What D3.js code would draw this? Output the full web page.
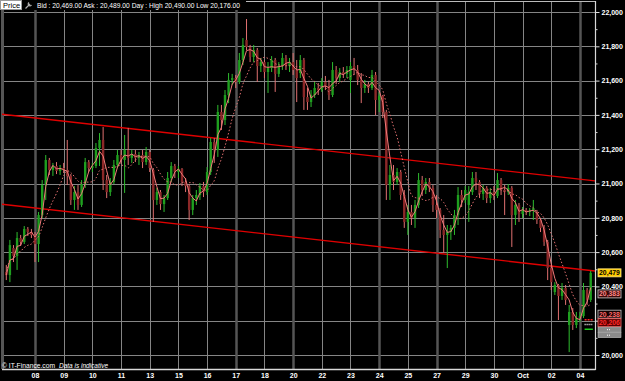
<!DOCTYPE html>
<html>
<head>
<meta charset="utf-8">
<script src="https://cdn.jsdelivr.net/npm/d3@7"></script>
<style>
html, body { margin: 0; padding: 0; background: #000; }
svg { display: block; font-family: "Liberation Sans", Arial, sans-serif; }
</style>
</head>
<body>
<svg id="chart" width="625" height="381"></svg>
<script>
// candles, one per slot (8 slots per labelled day)
const opens = [20484,20466,20624,20577,20682,20659,20735,20717,20700,20647,
  20816,20991,21137,21079,21102,21073,21090,21079,21044,20904,
  20950,20875,20997,21125,21090,21102,21207,21254,21020,20950,
  21009,21108,21166,21137,21195,21149,21172,21149,21166,21125,
  21184,21079,20904,20950,20880,20915,21032,21102,21067,21085,
  21009,20985,20846,20915,20933,20985,20950,21067,21242,21195,
  21417,21370,21516,21604,21615,21592,21720,21837,21796,21738,
  21778,21685,21708,21650,21673,21720,21639,21685,21732,21685,
  21708,21662,21644,21720,21504,21475,21516,21557,21545,21592,
  21569,21516,21662,21615,21650,21639,21604,21685,21662,21604,
  21557,21580,21557,21633,21487,21510,21417,20991,21050,21009,
  21067,20933,20776,20834,20799,20875,21020,20962,21009,20974,
  20875,20846,20729,20700,20717,20741,20816,20933,20904,20875,
  20950,21032,21009,20939,20974,20915,20950,20927,21020,20962,
  20950,20974,20816,20875,20822,20846,20834,20840,20834,20787,
  20741,20659,20507,20367,20408,20344,20391,20175,20251,20175,
  20216,20227,20379,20321];
const highs = [20525,20671,20641,20717,20700,20752,20746,20735,20717,20834,
  21020,21166,21149,21120,21125,21108,21120,21254,21055,20985,
  20991,21020,21149,21137,21120,21236,21294,21329,21050,21032,
  21137,21195,21195,21283,21324,21195,21195,21184,21195,21213,
  21195,21090,20974,20962,20933,21067,21125,21114,21102,21090,
  21032,20997,20933,20962,21003,21009,21096,21265,21265,21458,
  21458,21545,21644,21639,21633,21761,21848,21959,21808,21808,
  21790,21732,21720,21708,21743,21732,21708,21761,21749,21732,
  21761,21720,21749,21732,21557,21545,21592,21586,21615,21627,
  21604,21708,21685,21673,21679,21685,21708,21732,21691,21644,
  21604,21592,21662,21650,21534,21516,21429,21108,21108,21090,
  21079,20962,20875,20875,20904,21061,21044,21032,21032,20991,
  20933,20857,20816,20758,20758,20846,20979,20962,20985,20985,
  21067,21067,21020,20991,20985,20974,20985,21061,21032,20991,
  20997,20985,20904,20886,20863,20857,20857,20904,20846,20799,
  20758,20671,20525,20425,20414,20420,20408,20292,20274,20251,
  20251,20420,20391,20490];
const lows = [20437,20425,20542,20496,20636,20647,20694,20682,20542,20542,
  20799,20904,21050,21044,21055,21050,21061,20991,20875,20846,
  20846,20863,20974,21067,21067,21090,21102,20962,20915,20927,
  20997,21090,21114,20945,21108,21120,21125,21108,21090,21108,
  21067,20776,20875,20846,20834,20904,21009,21032,21032,20985,
  20950,20787,20816,20875,20904,20921,20933,21050,21120,21155,
  21312,21341,21469,21574,21557,21580,21691,21778,21708,21708,
  21592,21650,21615,21528,21650,21534,21621,21662,21662,21650,
  21633,21475,21615,21429,21429,21446,21499,21516,21534,21545,
  21487,21504,21580,21592,21615,21615,21528,21633,21574,21469,
  21528,21528,21545,21399,21417,21382,20904,20904,20962,20991,
  20904,20741,20700,20758,20741,20857,20927,20939,20950,20834,
  20799,20682,20595,20507,20671,20700,20758,20863,20886,20776,
  20933,20962,20915,20904,20886,20886,20904,20915,20933,20816,
  20933,20630,20758,20776,20799,20816,20810,20787,20764,20717,
  20636,20437,20379,20350,20204,20321,20292,20017,20146,20157,
  20192,20216,20292,20309];
const closes = [20466,20641,20577,20682,20659,20735,20717,20700,20647,20816,
  20991,21137,21079,21102,21073,21090,21079,21044,20904,20950,
  20875,20997,21125,21090,21102,21207,21254,21020,20950,21009,
  21108,21166,21137,21195,21149,21172,21149,21166,21125,21184,
  21090,20904,20950,20880,20915,21032,21102,21067,21085,21009,
  20985,20846,20915,20933,20985,20950,21067,21242,21195,21417,
  21370,21516,21604,21615,21592,21720,21808,21796,21738,21778,
  21685,21708,21650,21673,21720,21639,21685,21732,21685,21708,
  21662,21615,21720,21504,21475,21516,21557,21545,21592,21569,
  21516,21662,21615,21650,21639,21662,21685,21662,21604,21557,
  21580,21557,21633,21487,21510,21417,20991,21050,21009,21067,
  20933,20776,20834,20799,20875,21020,20962,21009,20974,20875,
  20846,20729,20700,20717,20741,20816,20933,20904,20962,20950,
  21032,21009,20939,20974,20915,20950,20927,21020,20962,20950,
  20974,20816,20875,20822,20846,20834,20840,20857,20787,20741,
  20659,20507,20425,20408,20344,20391,20321,20251,20175,20216,
  20227,20379,20321,20479];

const tickIdx = [8,16,24,32,40,48,56,64,72,80,88,96,104,112,120,128,136,144,152,160];
const tickLabels = ["08","09","10","11","13","15","16","17","18","20","22","23","24","25","27","29","30","Oct","02","04"];
const sessionStarts = ["08","17","20","24","27","04"];
const priceTicks = [20000,20200,20400,20600,20800,21000,21200,21400,21600,21800,22000];
const minorTicks = [20100,20300,20500,20700,20900,21100,21300,21500,21700,21900];

// channel lines: [slot, price] at each end
const upperLine = [[-1.76, 21405], [164.2, 21015]];
const lowerLine = [[-1.76, 20880], [164.2, 20490]];

const tagValues = [20479, 20383, 20238, 20206];
const greyTagValues = [20175, 20146];
const levelMarks = [20206, 20178, 20150];

const headerText = "Bid : 20,469.00 Ask : 20,489.00  Day : High 20,490.00 Low 20,176.00";

const maSlow = 8, maFast = 3;

const svg = d3.select("#chart");
const pLeft = 2, pRight = 595, pTop = 1, pBottom = 369;

const x = d3.scaleLinear().domain([-1.76, 164.2]).range([0, 595]);
const y = d3.scaleLinear().domain([20000, 22000]).range([355, 12]);

svg.append("rect").attr("width", 625).attr("height", 381).attr("fill", "#000");

svg.append("defs").append("clipPath").attr("id", "plot")
  .append("rect").attr("x", pLeft).attr("y", pTop).attr("width", pRight - pLeft).attr("height", pBottom - pTop);

// grid
const grid = svg.append("g");
grid.selectAll(".hg").data(priceTicks).enter().append("line")
  .attr("x1", pLeft).attr("x2", pRight)
  .attr("y1", d => Math.round(y(d)) + 0.5).attr("y2", d => Math.round(y(d)) + 0.5)
  .attr("stroke", "#858585").attr("stroke-width", 1);
grid.selectAll(".vg").data(tickIdx).enter().append("line")
  .attr("x1", d => Math.round(x(d)) + 0.5).attr("x2", d => Math.round(x(d)) + 0.5)
  .attr("y1", pTop).attr("y2", pBottom)
  .attr("stroke", (d, i) => sessionStarts.includes(tickLabels[i]) ? "#555" : "#858585")
  .attr("stroke-width", (d, i) => sessionStarts.includes(tickLabels[i]) ? 2.5 : 1);
grid.append("line").attr("x1", pLeft + 0.5).attr("x2", pLeft + 0.5).attr("y1", pTop).attr("y2", pBottom)
  .attr("stroke", "#555").attr("stroke-width", 3);

const plot = svg.append("g").attr("clip-path", "url(#plot)");

// channel
[upperLine, lowerLine].forEach(seg => {
  plot.append("line")
    .attr("x1", x(seg[0][0])).attr("y1", y(seg[0][1]))
    .attr("x2", x(seg[1][0])).attr("y2", y(seg[1][1]))
    .attr("stroke", "#e00000").attr("stroke-width", 1.4);
});

// moving averages
const sma = n => closes.map((c, i) => d3.mean(closes.slice(Math.max(0, i - n + 1), i + 1)));
const slow = sma(maSlow), fast = sma(maFast);

// candles
const up = i => closes[i] >= opens[i];
const candles = plot.append("g").selectAll("g").data(closes).enter().append("g");
candles.append("line")
  .attr("x1", (d, i) => x(i)).attr("x2", (d, i) => x(i))
  .attr("y1", (d, i) => y(highs[i])).attr("y2", (d, i) => y(lows[i]))
  .attr("stroke", (d, i) => up(i) ? "#2ebd2e" : "#e07070").attr("stroke-width", 1);
candles.append("rect")
  .attr("x", (d, i) => x(i) - 1.2).attr("width", 2.4)
  .attr("y", (d, i) => y(Math.max(opens[i], closes[i])))
  .attr("height", (d, i) => Math.max(1, Math.abs(y(opens[i]) - y(closes[i]))))
  .attr("fill", (d, i) => up(i) ? "#1f9f1f" : "#8c2828");

plot.append("path").datum(fast)
  .attr("d", d3.line().x((d, i) => x(i)).y(d => y(d)))
  .attr("fill", "none").attr("stroke", "#f07a7a").attr("stroke-width", 1);
plot.append("path").datum(slow)
  .attr("d", d3.line().curve(d3.curveMonotoneX).x((d, i) => x(i)).y(d => y(d)))
  .attr("fill", "none").attr("stroke", "#e07070").attr("stroke-width", 1)
  .attr("stroke-dasharray", "1.5,2");

// level markers at the last bar
const markStyles = [["#ff2020", "2,1"], ["#ffffff", "1,1"], ["#20d020", null]];
plot.selectAll(".lm").data(levelMarks).enter().append("line")
  .attr("x1", x(161.3)).attr("x2", x(163.6))
  .attr("y1", d => y(d)).attr("y2", d => y(d))
  .attr("stroke", (d, i) => markStyles[i][0]).attr("stroke-width", 1.5)
  .attr("stroke-dasharray", (d, i) => markStyles[i][1]);

// frame
svg.append("line").attr("x1", pLeft).attr("x2", pRight + 0.5).attr("y1", pBottom + 0.5).attr("y2", pBottom + 0.5)
  .attr("stroke", "#d8d8d8").attr("stroke-width", 1.5);
svg.append("line").attr("x1", pRight + 0.5).attr("x2", pRight + 0.5).attr("y1", pTop).attr("y2", pBottom + 1)
  .attr("stroke", "#d8d8d8").attr("stroke-width", 1.2);
svg.append("line").attr("x1", pLeft).attr("x2", pRight).attr("y1", pTop + 0.5).attr("y2", pTop + 0.5)
  .attr("stroke", "#bbbbbb").attr("stroke-width", 1);

// tag positions: stacked so they never overlap, and kept off a tick label they would half cover
const tagH = 8;
const tagPos = [];
tagValues.forEach((v, i) => {
  let p = y(v);
  priceTicks.forEach(t => { const d = p - y(t); if (d > 0 && d < 7.5) p = y(t) + 7.5; });
  if (i > 0 && p < tagPos[i - 1] + tagH + 0.5) p = tagPos[i - 1] + tagH + 0.5;
  tagPos.push(p);
});
const greyPos = [];
greyTagValues.forEach((v, i) => {
  const prev = i === 0 ? tagPos[tagPos.length - 1] + tagH / 2 : greyPos[i - 1] + 2.5;
  greyPos.push(Math.max(y(v), prev + 3));
});
const coveredByTag = t => tagPos.some(p => Math.abs(y(t) - p) < tagH / 2 + 1);

// right axis
const yAxis = svg.append("g").attr("transform", `translate(${pRight + 0.5},0)`)
  .call(d3.axisRight(y).tickValues(priceTicks).tickFormat(d3.format(",")).tickSize(4).tickPadding(2));
yAxis.select(".domain").remove();
yAxis.selectAll("line").attr("stroke", "#e0e0e0");
yAxis.selectAll("text").attr("fill", "#fff").attr("font-size", 7).attr("font-weight", "bold")
  .attr("font-family", "Liberation Sans, Arial, sans-serif")
  .filter(d => coveredByTag(d)).remove();
const yMinor = svg.append("g").attr("transform", `translate(${pRight + 0.5},0)`)
  .call(d3.axisRight(y).tickValues(minorTicks).tickFormat("").tickSize(2));
yMinor.select(".domain").remove();
yMinor.selectAll("line").attr("stroke", "#cfcfcf");

// bottom axis
const xAxis = svg.append("g").attr("transform", `translate(0,${pBottom})`)
  .call(d3.axisBottom(x).tickValues(tickIdx).tickFormat((d, i) => tickLabels[i]).tickSize(0).tickPadding(4));
xAxis.select(".domain").remove();
xAxis.selectAll("text").attr("fill", "#fff").attr("font-size", 7).attr("font-weight", "bold")
  .attr("font-family", "Liberation Sans, Arial, sans-serif");

// price tags on the axis
const tagStyles = [
  { fill: "#ffcc00", stroke: "#ffe680", text: "#000" },
  { fill: "#3a0808", stroke: "#d0d0d0", text: "#ff8a8a" },
  { fill: "#140000", stroke: "#c8c8c8", text: "#ff6a6a" },
  { fill: "#5a0000", stroke: "#ff7070", text: "#ff2a2a" }
];
const tags = svg.append("g").selectAll("g").data(tagValues).enter().append("g")
  .attr("transform", (d, i) => `translate(598,${tagPos[i]})`);
tags.append("rect").attr("x", 0).attr("y", -tagH / 2).attr("width", 23).attr("height", tagH)
  .attr("fill", (d, i) => tagStyles[i].fill).attr("stroke", (d, i) => tagStyles[i].stroke).attr("stroke-width", 0.8);
tags.append("text").attr("x", 11.5).attr("y", 2.5).attr("text-anchor", "middle")
  .attr("font-size", 6.8).attr("font-weight", "bold").attr("fill", (d, i) => tagStyles[i].text)
  .text(d => d3.format(",")(d));
// two greyed tags underneath
greyPos.forEach(p => {
  svg.append("rect").attr("x", 598).attr("y", p - 2.5).attr("width", 23).attr("height", 5)
    .attr("fill", "#8a8a8a").attr("stroke", "#bdbdbd").attr("stroke-width", 0.6);
  svg.append("line").attr("x1", 607).attr("x2", 611).attr("y1", p).attr("y2", p)
    .attr("stroke", "#fff").attr("stroke-dasharray", "1,1");
});

// header bar
svg.append("rect").attr("x", 0).attr("y", 0).attr("width", 246).attr("height", 10).attr("fill", "#000");
svg.append("rect").attr("x", 0.5).attr("y", 0.5).attr("width", 21).attr("height", 9)
  .attr("fill", "#fff").attr("stroke", "#999");
svg.append("text").attr("x", 3).attr("y", 8).attr("font-size", 7.5).attr("fill", "#000").text("Price");
svg.append("path").attr("d", "M25.5,8.5 L30,4 M29,2.5 a1.8,1.8 0 1 0 2.5,2.5")
  .attr("stroke", "#b0b0b0").attr("stroke-width", 1.2).attr("fill", "none");
svg.append("text").attr("x", 37).attr("y", 7.6).attr("font-size", 7.5).attr("fill", "#fff")
  .attr("textLength", 203).attr("lengthAdjust", "spacingAndGlyphs").text(headerText);

// footer
svg.append("text").attr("x", 2).attr("y", 367.5).attr("font-size", 7.5).attr("fill", "#fff")
  .attr("textLength", 53).attr("lengthAdjust", "spacingAndGlyphs").text("© IT-Finance.com");
svg.append("text").attr("x", 59).attr("y", 367.5).attr("font-size", 7.5).attr("fill", "#fff")
  .attr("font-style", "italic").attr("textLength", 49).attr("lengthAdjust", "spacingAndGlyphs")
  .text("Data is indicative");
</script>
</body>
</html>
